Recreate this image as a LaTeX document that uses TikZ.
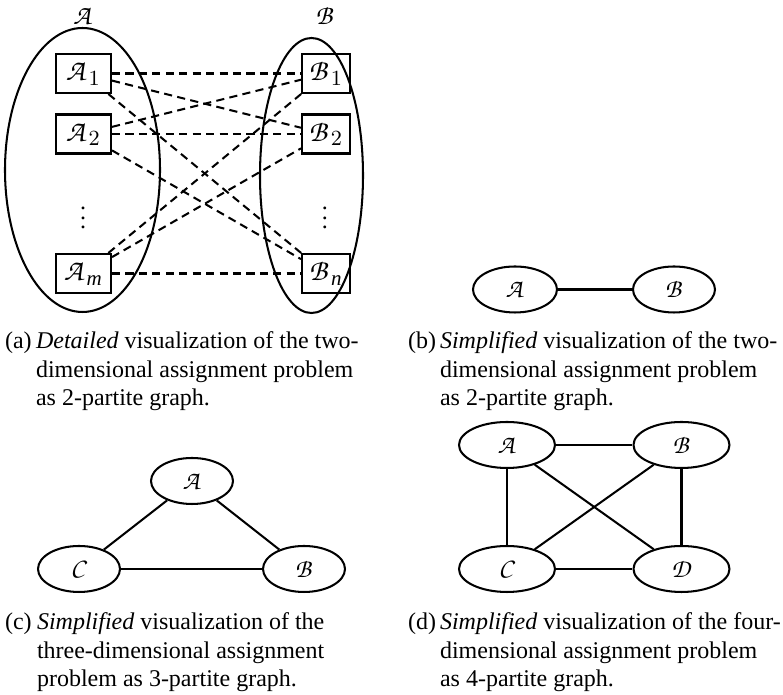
\documentclass[tikz,border=0pt]{standalone}
\usepackage{amsmath}
\usepackage{fontspec}
\setmainfont{Liberation Serif}
\DeclareMathAlphabet{\mathcal}{OT1}{pzc}{m}{it}
\usetikzlibrary{shapes.geometric}
% one drawing unit is one pixel of a 783 x 695 canvas
\newcommand\pu{*0.41667pt}
% calligraphic set name with an index, slightly spaced
\newcommand\idx[2]{\mathcal{#1}\mkern1mu{}_{#2}}
\begin{document}
\begin{tikzpicture}[x=0.41667pt, y=-0.41667pt, line width=0.85pt,
  part/.style={draw, ellipse, inner sep=0pt},
  item/.style={draw, rectangle, inner sep=0pt, minimum height=39\pu,
    font=\fontsize{12.5}{15}\selectfont},
  vert/.style={draw, ellipse, inner sep=0pt, minimum height=46\pu,
    font=\fontsize{11}{13}\selectfont},
  link/.style={dash pattern=on 3.4pt off 2.2pt},
  setlabel/.style={anchor=base, inner sep=0pt, font=\fontsize{11.5}{14}\selectfont},
  captext/.style={anchor=base west, inner sep=0pt}]
\useasboundingbox (0,0) rectangle (783,695);

% ---------- (a) detailed bipartite graph ----------
\node[part, minimum width=155\pu, minimum height=284\pu] (PA) at (82.5,170) {};
\node[part, minimum width=103\pu, minimum height=275\pu] (PB) at (311.5,175.5) {};
\node[setlabel] (LA) at (83,25) {$\mathcal{A}$};
\node[setlabel] (LB) at (325,25) {$\mathcal{B}$};

\node[item, minimum width=55\pu] (A1) at (83.5,73.5)  {$\idx{A}{1}$};
\node[item, minimum width=55\pu] (A2) at (83.5,134)   {$\idx{A}{2}$};
\node[item, minimum width=55\pu] (Am) at (83.5,273.5) {$\idx{A}{\mathit{m}}$};
\node[item, minimum width=48\pu] (B1) at (326,73.5)   {$\idx{B}{1}$};
\node[item, minimum width=48\pu] (B2) at (326,134)    {$\idx{B}{2}$};
\node[item, minimum width=48\pu] (Bn) at (326,273.5)  {$\idx{B}{\mathit{n}}$};
\node (dA) at (83,211)  {$\vdots$};
\node (dB) at (325,211) {$\vdots$};

\foreach \s in {A1,A2,Am}
  \foreach \t in {B1,B2,Bn}
    \draw[link] (\s) -- (\t);

% ---------- (b) two sets ----------
\node[vert, minimum width=84\pu] (bA) at (515,289.5) {$\mathcal{A}$};
\node[vert, minimum width=82\pu] (bB) at (674,289.5) {$\mathcal{B}$};
\draw (bA) -- (bB);

% ---------- (c) three sets ----------
\node[vert, minimum width=82\pu] (cA) at (192,481) {$\mathcal{A}$};
\node[vert, minimum width=82\pu] (cC) at (79,569)  {$\mathcal{C}$};
\node[vert, minimum width=82\pu] (cB) at (304,569) {$\mathcal{B}$};
\draw (cA) -- (cC);
\draw (cA) -- (cB);
\draw (cC) -- (cB);

% ---------- (d) four sets ----------
\node[vert, minimum width=96\pu] (dA4) at (507,445)   {$\mathcal{A}$};
\node[vert, minimum width=96\pu] (dB4) at (681.5,445) {$\mathcal{B}$};
\node[vert, minimum width=96\pu] (dC4) at (507,569)   {$\mathcal{C}$};
\node[vert, minimum width=96\pu] (dD4) at (681.5,569) {$\mathcal{D}$};
\draw (dA4) -- (dB4);
\draw (dC4) -- (dD4);
\draw (dA4) -- (dC4);
\draw (dB4) -- (dD4);
\draw (dA4) -- (dD4);
\draw (dB4) -- (dC4);

% ---------- captions ----------
\node[captext] (ka) at (4,349) {(a)};
\node[captext] (ka1) at (35,349)   {\textit{Detailed} visualization of the two-};
\node[captext] (ka2) at (35,377.5) {dimensional assignment problem};
\node[captext] (ka3) at (35,406)   {as 2-partite graph.};

\node[captext] (kb) at (407,349) {(b)};
\node[captext] (kb1) at (439,349)   {\textit{Simplified} visualization of the two-};
\node[captext] (kb2) at (439,377.5) {dimensional assignment problem};
\node[captext] (kb3) at (439,406)   {as 2-partite graph.};

\node[captext] (kc) at (4,630) {(c)};
\node[captext] (kc1) at (36,630)   {\textit{Simplified} visualization of the};
\node[captext] (kc2) at (36,658.5) {three-dimensional assignment};
\node[captext] (kc3) at (36,687)   {problem as 3-partite graph.};

\node[captext] (kd) at (407,630) {(d)};
\node[captext] (kd1) at (439,630)   {\textit{Simplified} visualization of the four-};
\node[captext] (kd2) at (439,658.5) {dimensional assignment problem};
\node[captext] (kd3) at (439,687)   {as 4-partite graph.};
\end{tikzpicture}
\end{document}
